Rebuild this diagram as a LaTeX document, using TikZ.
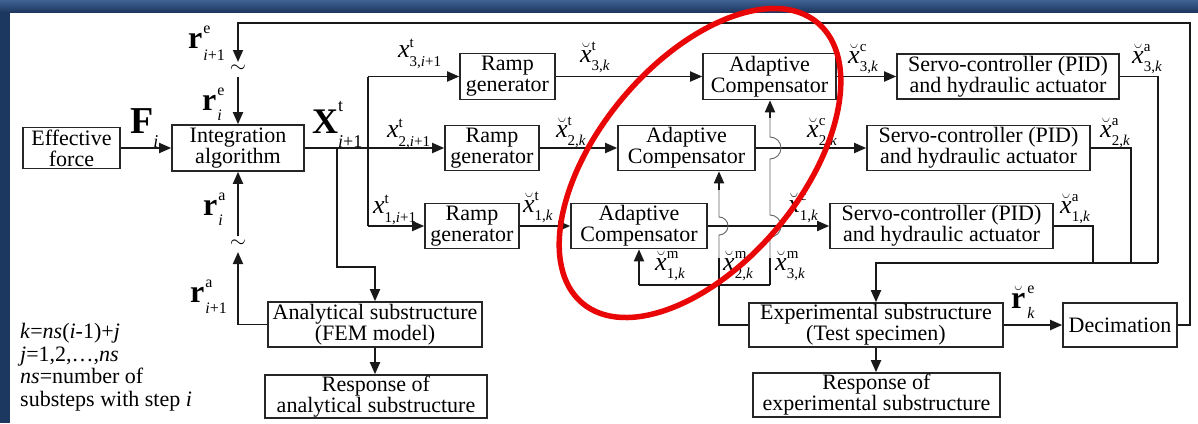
\documentclass[tikz,border=0pt]{standalone}
\usepackage{fontspec}
\setmainfont{Liberation Serif}
\usetikzlibrary{arrows.meta}

% symbol with stacked super- and subscript:
% #1 base, #2 sup, #3 sub, #4 raise of sup, #5 drop of sub, #6 script size
\newcommand{\sy}[6]{{#1}\ooalign{\raisebox{#4}{\fontsize{#6}{#6}\selectfont #2}\cr
  \raisebox{-#5}{\fontsize{#6}{#6}\selectfont #3}\cr}}
\newcommand{\xs}[2]{\sy{\fontsize{26}{26}\selectfont\itshape x}{t}{#1,\textit{#2}+1}{10pt}{9pt}{15}}
\newcommand{\xb}[3]{\sy{\fontsize{26}{26}\selectfont$\breve{\mbox{\itshape x}}$}{#1}{#2,\textit{#3}}{12pt}{8pt}{15}}
\newcommand{\rb}[4]{\sy{\fontsize{32}{32}\selectfont\bfseries r\kern1pt}{#1}{#2}{#3}{#4}{16}}

\definecolor{navy}{RGB}{29,56,96}
\definecolor{navytop}{RGB}{64,98,148}
\definecolor{ovalred}{RGB}{232,6,6}

\tikzset{
  blk/.style={draw=black!85, line width=1.6pt, inner sep=0pt, align=center,
    font=\rmfamily\fontsize{22}{21}\selectfont},
  con/.style={line width=1.8pt, draw=black!90},
  arr/.style={con, -{Triangle[length=12pt,width=10pt]}},
  thinline/.style={line width=0.9pt, draw=black!60},
  lbl/.style={inner sep=0pt, anchor=base west},
}

\begin{document}
\begin{tikzpicture}[x=1pt,y=-1pt]
\useasboundingbox (0,0) rectangle (1198,423);
% slide frame
\fill[white] (0,0) rectangle (1198,423);
\shade[top color=navytop, bottom color=navy] (0,0) rectangle (1198,12);
\fill[navy] (0,12) rectangle (10,423);

% blocks
\node[blk, minimum width=97pt, minimum height=41pt] (eff) at (71.5,148) {Effective\\force};
\node[blk, minimum width=132pt, minimum height=46pt] (int) at (238,148) {Integration\\algorithm};
\node[blk, minimum width=95pt, minimum height=46pt] (rg3) at (507.5,76.5) {Ramp\\generator};
\node[blk, minimum width=94pt, minimum height=45pt] (rg2) at (492,148) {Ramp\\generator};
\node[blk, minimum width=94pt, minimum height=45pt] (rg1) at (472,226) {Ramp\\generator};
\node[blk, minimum width=133pt, minimum height=46pt] (ac3) at (769.5,76.5) {Adaptive\\Compensator};
\node[blk, minimum width=137pt, minimum height=45pt] (ac2) at (686.5,148) {Adaptive\\Compensator};
\node[blk, minimum width=136pt, minimum height=45pt] (ac1) at (639,226) {Adaptive\\Compensator};
\node[blk, minimum width=222pt, minimum height=45pt] (sv3) at (1008,76.5) {Servo-controller (PID)\\and hydraulic actuator};
\node[blk, minimum width=223pt, minimum height=45pt] (sv2) at (978.5,148) {Servo-controller (PID)\\and hydraulic actuator};
\node[blk, minimum width=223pt, minimum height=45pt] (sv1) at (941.5,226) {Servo-controller (PID)\\and hydraulic actuator};
\node[blk, minimum width=214pt, minimum height=45pt] (an) at (375,324.5) {Analytical substructure\\(FEM model)};
\node[blk, minimum width=222pt, minimum height=43pt] (ra) at (376,396.5) {Response of\\analytical substructure};
\node[blk, minimum width=254pt, minimum height=44pt] (ex) at (876,325) {Experimental substructure\\(Test specimen)};
\node[blk, minimum width=247pt, minimum height=44pt] (re) at (876.5,395) {Response of\\experimental substructure};
\node[blk, minimum width=114pt, minimum height=44pt] (dc) at (1120,325) {Decimation};

% junction and bend points
\coordinate (jx) at (368,148);
\coordinate (jd) at (337,148);
\coordinate (jdb) at (337,267);
\coordinate (bus) at (876,263);
\coordinate (b3) at (1158,263);
\coordinate (b2) at (1131,263);
\coordinate (b1) at (1093,263);
\coordinate (dr) at (1190,325);
\coordinate (tp) at (1190,23);
\coordinate (tipE) at (238,62);
\coordinate (srcE) at (238,77);
\coordinate (tipA) at (238,252);
\coordinate (srcA) at (238,236);
\coordinate (fb) at (719,285);
\coordinate (m1) at (639,285);
\coordinate (m3) at (770,285);

% forward path
\draw[arr] (eff.east) -- (int.west);
\draw[con] (int.east) -- (jx);
\draw[con] (jx |- rg3.west) -- (jx |- rg1.west);
\draw[arr] (jx |- rg3.west) -- (rg3.west);
\draw[arr] (jx) -- (rg2.west);
\draw[arr] (jx |- rg1.west) -- (rg1.west);
\draw[arr] (jd) -- (jdb) -| (an.north);
\draw[arr] (an.south) -- (an.south |- ra.north);

\draw[arr] (rg3.east) -- (ac3.west);
\draw[arr] (rg2.east) -- (ac2.west);
\draw[arr] (rg1.east) -- (ac1.west);
\draw[arr] (ac3.east) -- (sv3.west);
\draw[arr] (ac2.east) -- (sv2.west);
\draw[arr] (ac1.east) -- (sv1.west);

% actuator outputs to the specimen
\draw[con] (sv3.east) -| (b3);
\draw[con] (sv2.east) -| (b2);
\draw[con] (sv1.east) -| (b1);
\draw[arr] (b3) -- (bus) -- (ex.north);
\draw[arr] (ex.south) -- (ex.south |- re.north);
\draw[arr] (ex.east) -- (dc.west);

% restoring force feedback
\draw[arr] (dc.east) -- (dr) -- (tp) -| (tipE);
\node[inner sep=0pt, font=\fontsize{22}{22}\selectfont] (tE) at (238,69) {$\sim$};
\draw[arr] (srcE) -- (int.north);
\draw[arr] (an.west) -| (tipA);
\node[inner sep=0pt, font=\fontsize{22}{22}\selectfont] (tA) at (238,244) {$\sim$};
\draw[arr] (srcA) -- (int.south);

% measured displacements back to the compensators
\draw[con] (ex.west) -| (fb);
\draw[con] (m1) -- (m3);
\draw[arr] (m1) -- (ac1.south);
\draw[con] (fb) -- (719,258);
\draw[thinline] (719,258) -- (719,235) arc[start angle=-90, end angle=90, radius=9pt] -- (719,190);
\draw[arr] (719,190) -- (ac2.south -| fb);
\draw[con] (m3) -- (770,258);
\draw[thinline] (770,258) -- (770,237) arc[start angle=-90, end angle=90, radius=11pt]
  -- (770,159) arc[start angle=-90, end angle=90, radius=11pt] -- (770,118);
\draw[arr] (770,118) -- (ac3.south -| m3);

% signal labels
\node[lbl] (lF) at (130,133) {\sy{\fontsize{38}{38}\selectfont\bfseries F}{}{\textit{i}}{0pt}{14pt}{18}};
\node[lbl] (lX) at (312,133) {\sy{\fontsize{36}{36}\selectfont\bfseries X}{t}{\textit{i}+1}{22pt}{14pt}{18}};
\node[lbl] (lre1) at (188,48) {\rb{e}{\textit{i}+1}{15pt}{12pt}};
\node[lbl] (lre) at (202,110) {\rb{e}{\textit{i}}{15pt}{10pt}};
\node[lbl] (lra) at (203,215) {\rb{a}{\textit{i}}{15pt}{10pt}};
\node[lbl] (lra1) at (190,302) {\rb{a}{\textit{i}+1}{15pt}{11pt}};

\node[lbl] (lx3) at (398,57) {\xs{3}{i}};
\node[lbl] (lx2) at (387,137) {\xs{2}{i}};
\node[lbl] (lx1) at (373,213) {\xs{1}{i}};

\node[lbl] (lt3) at (580,62) {\xb{t}{3}{k}};
\node[lbl] (lt2) at (556,137) {\xb{t}{2}{k}};
\node[lbl] (lt1) at (523,212) {\xb{t}{1}{k}};
\node[lbl] (lc3) at (848,63) {\xb{c}{3}{k}};
\node[lbl] (lc2) at (807,137) {\xb{c}{2}{k}};
\node[lbl] (lc1) at (788,212) {\xb{c}{1}{k}};
\node[lbl] (la3) at (1132,63) {\xb{a}{3}{k}};
\node[lbl] (la2) at (1100,137) {\xb{a}{2}{k}};
\node[lbl] (la1) at (1060,213) {\xb{a}{1}{k}};
\node[lbl] (lm1) at (655,270) {\xb{m}{1}{k}};
\node[lbl] (lm2) at (723,270) {\xb{m}{2}{k}};
\node[lbl] (lm3) at (775,270) {\xb{m}{3}{k}};
\node[lbl] (lrk) at (1011,308) {\sy{\fontsize{32}{32}\selectfont$\breve{\mbox{\bfseries r}}$\kern2pt}{e}{\textit{k}}{15pt}{10pt}{16}};

% notes
\node[anchor=north west, inner sep=0pt, align=left, font=\fontsize{22}{22.7}\selectfont] (note) at (20,323)
  {\textit{k}=\textit{ns}(\textit{i}-1)+\textit{j}\\
   \textit{j}=1,2,\ldots,\textit{ns}\\
   \textit{ns}=number of\\
   substeps with step \textit{i}};

% highlight
\draw[line width=5.5pt, draw=ovalred, rotate around={50:(700,163)}]
  (700,163) ellipse [x radius=183pt, y radius=101pt];
\end{tikzpicture}
\end{document}
